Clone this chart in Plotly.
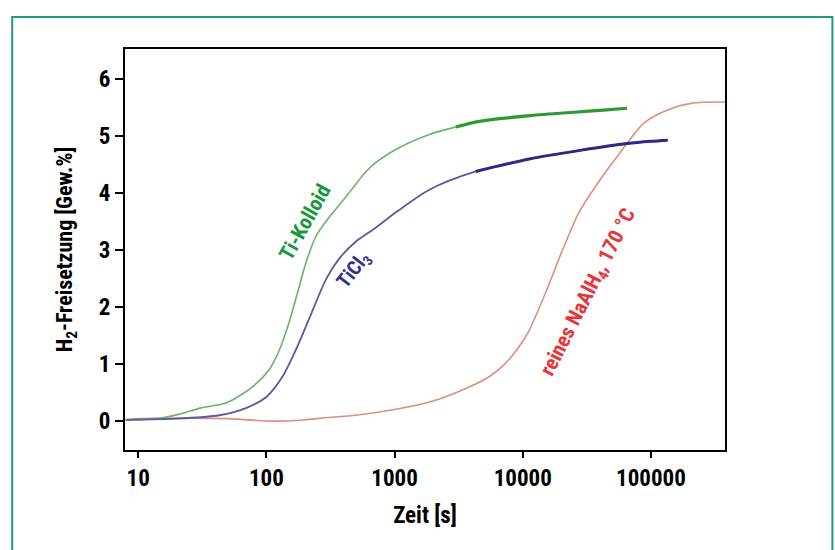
import numpy as np
import plotly.graph_objects as go

# --- data ---
t_kolloid = [8, 15, 21, 31, 49, 78, 105, 125, 150, 175, 205, 245, 310, 380, 470, 560, 700, 1050, 1870, 3000, 4600, 11300, 25000, 45000, 65000]
y_kolloid = [0.02, 0.05, 0.12, 0.23, 0.32, 0.6, 0.9, 1.22, 1.72, 2.25, 2.8, 3.25, 3.58, 3.82, 4.08, 4.3, 4.52, 4.78, 5.03, 5.16, 5.26, 5.36, 5.42, 5.46, 5.49]

t_ticl3 = [8, 20, 43, 70, 100, 133, 170, 218, 294, 370, 500, 700, 1050, 1870, 4300, 11300, 28000, 65000, 100000, 135000]
y_ticl3 = [0.02, 0.04, 0.1, 0.23, 0.42, 0.77, 1.25, 1.82, 2.5, 2.85, 3.15, 3.38, 3.68, 4.06, 4.38, 4.6, 4.75, 4.87, 4.91, 4.93]

t_naalh4 = [8, 10, 20, 50, 100, 150, 200, 300, 500, 1000, 2000, 3860, 5500, 7100, 9000, 11000, 15700, 20000, 27300, 40000, 57000, 88000, 135000, 209000, 378000]
y_naalh4 = [0.02, 0.04, 0.05, 0.04, 0.0, 0.0, 0.02, 0.06, 0.1, 0.2, 0.35, 0.6, 0.78, 0.98, 1.25, 1.55, 2.35, 2.95, 3.65, 4.23, 4.7, 5.23, 5.46, 5.58, 5.6]

x_ticks = [10, 100, 1000, 10000, 100000]
x_ticktext = ["10", "100", "1000", "10000", "100000"]
y_ticks = [0, 1, 2, 3, 4, 5, 6]

FONT = "Liberation Sans Narrow, Roboto Condensed, DejaVu Sans Condensed, Arial Narrow, sans-serif"

fig = go.Figure()

def add(t, y, color, width, thick_from=None, thick_color=None, thick_width=None):
    fig.add_trace(go.Scatter(x=t, y=y, mode="lines", line=dict(color=color, width=width, shape="spline", smoothing=0.8),
                             showlegend=False, hoverinfo="skip"))
    if thick_from is not None:
        tt = [a for a in t if a >= thick_from]
        yy = [b for a, b in zip(t, y) if a >= thick_from]
        fig.add_trace(go.Scatter(x=tt, y=yy, mode="lines",
                                 line=dict(color=thick_color, width=thick_width, shape="spline", smoothing=0.8),
                                 showlegend=False, hoverinfo="skip"))

add(t_naalh4, y_naalh4, "#dc8f7a", 1.6)
add(t_kolloid, y_kolloid, "#6ab46a", 1.6, thick_from=3000, thick_color="#2f9a35", thick_width=3.2)
add(t_ticl3, y_ticl3, "#5a5aa2", 1.8, thick_from=4300, thick_color="#2b2b85", thick_width=3.0)

fig.update_layout(
    width=835, height=550,
    margin=dict(l=125, r=110, t=49, b=100),
    paper_bgcolor="white", plot_bgcolor="white",
    font=dict(family=FONT, color="black"),
    xaxis=dict(type="log", range=[np.log10(7.9), np.log10(378000)],
               tickvals=x_ticks, ticktext=x_ticktext,
               ticks="outside", ticklen=6, tickwidth=1.5, tickcolor="black",
               showline=True, linecolor="black", linewidth=2, mirror=True,
               showgrid=False, zeroline=False,
               tickfont=dict(family=FONT, size=23, weight="bold", color="black"),
               title=dict(text="Zeit [s]", font=dict(family=FONT, size=23, weight="bold", color="black"), standoff=16)),
    yaxis=dict(range=[-0.51, 6.53], tickvals=y_ticks,
               ticks="outside", ticklen=8, tickwidth=1.5, tickcolor="black",
               showline=True, linecolor="black", linewidth=2, mirror=True,
               showgrid=False, zeroline=False,
               tickfont=dict(family=FONT, size=23, weight="bold", color="black"),
               title=dict(text="H<sub>2</sub>-Freisetzung [Gew.%]", font=dict(family=FONT, size=22, weight="bold", color="black"), standoff=20)),
)

fig.add_shape(type="rect", xref="paper", yref="paper",
              x0=-0.188, x1=1.179, y0=-0.3, y1=1.08,
              line=dict(color="#1f9988", width=2), fillcolor="rgba(0,0,0,0)", layer="below")

fig.add_annotation(x=np.log10(200), y=3.5, text="Ti-Kolloid", showarrow=False, textangle=-61,
                   font=dict(family=FONT, size=21, weight="bold", color="#17993c"))
fig.add_annotation(x=np.log10(480), y=2.65, text="TiCl<sub>3</sub>", showarrow=False, textangle=-52,
                   font=dict(family=FONT, size=20, weight="bold", color="#2e3192"))
fig.add_annotation(x=np.log10(33000), y=2.25, text="reines NaAlH<sub>4</sub>, 170 °C", showarrow=False, textangle=-63,
                   font=dict(family=FONT, size=21, weight="bold", color="#e8353b"))

fig.write_html("out.html")
